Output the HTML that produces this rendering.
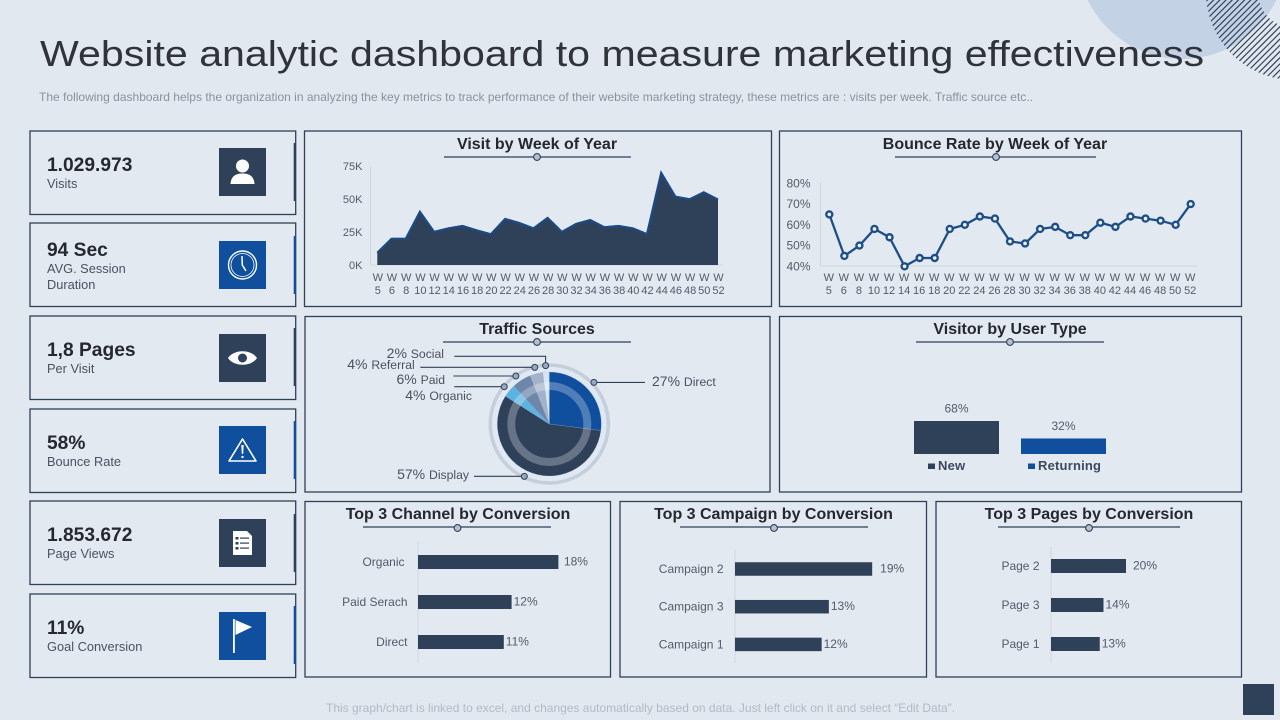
<!DOCTYPE html>
<html lang="en">
<head>
<meta charset="utf-8">
<title>Website analytic dashboard</title>
<style>
html,body{margin:0;padding:0;background:#e2e8f0;width:1280px;height:720px;overflow:hidden}
svg{display:block;font-family:"Liberation Sans",Arial,sans-serif}
.panel{fill:#e3e9f1;stroke:#2f4059;stroke-width:1.3}
.ptitle{font-size:16px;font-weight:bold;fill:#25282e;text-anchor:middle}
.rule{stroke:#2f4059;stroke-width:1.2}
.knob{fill:#b5bfce;stroke:#2f4059;stroke-width:1.1}
.kv{font-size:19.2px;font-weight:bold;fill:#25282e}
.kl{font-size:12.8px;fill:#4a5260}
</style>
</head>
<body>
<svg id="page" width="1280" height="720" viewBox="0 0 1280 720" xmlns="http://www.w3.org/2000/svg">
<defs>
<clipPath id="ringClip"><path clip-rule="evenodd" d="M1206 -8 a88 88 0 1 0 176 0 a88 88 0 1 0 -176 0 Z M1258 -8 a36 36 0 1 0 72 0 a36 36 0 1 0 -72 0 Z"/></clipPath>
</defs>
<rect width="1280" height="720" fill="#e2e8f0"/>
<circle cx="1182" cy="-46" r="105" fill="#c3d2e5"/>
<g id="hatchGroup" clip-path="url(#ringClip)" stroke="#36445a" stroke-width="1.2"></g>

<text x="40" y="66" font-size="36" fill="#30333a" textLength="1164" lengthAdjust="spacingAndGlyphs">Website analytic dashboard to measure marketing effectiveness</text>
<text x="39" y="101" font-size="12" fill="#8b929c" textLength="994" lengthAdjust="spacingAndGlyphs">The following dashboard helps the organization in analyzing the key metrics to track performance of their website marketing strategy, these metrics are : visits per week. Traffic source etc..</text>

<!-- KPI cards -->
<g>
<rect class="panel" x="30" y="131" width="265.7" height="83.5"/>
<rect x="293.7" y="143" width="2.3" height="58" fill="#2f4059"/>
<text class="kv" x="47" y="171">1.029.973</text>
<text class="kl" x="47" y="188">Visits</text>
<rect x="219" y="148" width="47" height="48" fill="#2f4059"/>
<g fill="#fff"><circle cx="242.5" cy="166" r="6.5"/><path d="M230.5 184 C231 176 236 173.5 242.5 173.5 C249 173.5 254 176 254.5 184 Z"/></g>
</g>

<g>
<rect class="panel" x="30" y="223" width="265.7" height="83.5"/>
<rect x="293.7" y="236" width="2.3" height="58" fill="#0f4f9e"/>
<text class="kv" x="47" y="256">94 Sec</text>
<text class="kl" x="47" y="273">AVG. Session</text>
<text class="kl" x="47" y="289">Duration</text>
<rect x="219" y="241" width="47" height="48" fill="#0f4f9e"/>
<g fill="none" stroke="#fff"><circle cx="242.5" cy="265" r="14" stroke-width="1.4"/><circle cx="242.5" cy="265" r="11.5" stroke-width="0.8"/><path d="M242 256 L242.3 265 L246 271" stroke-width="1.5"/></g>
</g>

<g>
<rect class="panel" x="30" y="316" width="265.7" height="83.5"/>
<rect x="293.7" y="328" width="2.3" height="58" fill="#2f4059"/>
<text class="kv" x="47" y="356">1,8 Pages</text>
<text class="kl" x="47" y="373">Per Visit</text>
<rect x="219" y="334" width="47" height="48" fill="#2f4059"/>
<g><path d="M228 358 C234 349 251 349 257 358 C251 367 234 367 228 358 Z" fill="#fff"/><circle cx="242.5" cy="358" r="4.5" fill="#2f4059"/></g>
</g>

<g>
<rect class="panel" x="30" y="409" width="265.7" height="83.5"/>
<rect x="293.7" y="421" width="2.3" height="58" fill="#0f4f9e"/>
<text class="kv" x="47" y="449">58%</text>
<text class="kl" x="47" y="466">Bounce Rate</text>
<rect x="219" y="426" width="47" height="48" fill="#0f4f9e"/>
<g><path d="M242.5 439 L256 461 L229 461 Z" fill="none" stroke="#fff" stroke-width="1.6" stroke-linejoin="round"/><path d="M241.3 445 h2.4 l-0.5 9 h-1.4 Z" fill="#fff"/><circle cx="242.5" cy="457" r="1.2" fill="#fff"/></g>
</g>

<g>
<rect class="panel" x="30" y="501" width="265.7" height="83.5"/>
<rect x="293.7" y="514" width="2.3" height="58" fill="#2f4059"/>
<text class="kv" x="47" y="541">1.853.672</text>
<text class="kl" x="47" y="558">Page Views</text>
<rect x="219" y="519" width="47" height="48" fill="#2f4059"/>
<g><path d="M233 531 H247 L252 536 V555 H233 Z" fill="#fff"/><g fill="#2f4059"><rect x="235.5" y="537" width="3" height="2.5"/><rect x="235.5" y="542" width="3" height="2.5"/><rect x="235.5" y="547" width="3" height="2.5"/><rect x="240" y="537.5" width="9" height="1.2"/><rect x="240" y="542.5" width="9" height="1.2"/><rect x="240" y="547.5" width="9" height="1.2"/></g></g>
</g>

<g>
<rect class="panel" x="30" y="594" width="265.7" height="83.5"/>
<rect x="293.7" y="606" width="2.3" height="58" fill="#0f4f9e"/>
<text class="kv" x="47" y="634">11%</text>
<text class="kl" x="47" y="651">Goal Conversion</text>
<rect x="219" y="612" width="47" height="48" fill="#0f4f9e"/>
<g fill="#fff"><rect x="233" y="619" width="1.8" height="34"/><path d="M235.5 620 L252 627 L235.5 635 Z"/></g>
</g>

<!-- Panels -->
<rect class="panel" x="304.5" y="131" width="467" height="175.5"/>
<rect class="panel" x="779.5" y="131" width="462" height="175.5"/>
<rect class="panel" x="305" y="316.5" width="465" height="175.5"/>
<rect class="panel" x="779.5" y="316.5" width="462" height="175.5"/>
<rect class="panel" x="305" y="501.5" width="305.5" height="175.5"/>
<rect class="panel" x="620" y="501.5" width="306.5" height="175.5"/>
<rect class="panel" x="936" y="501.5" width="305.5" height="175.5"/>

<text class="ptitle" x="537" y="149">Visit by Week of Year</text>
<line class="rule" x1="444" x2="631" y1="157" y2="157"/>
<circle class="knob" cx="537" cy="157" r="3.4"/>
<text class="ptitle" x="995" y="149">Bounce Rate by Week of Year</text>
<line class="rule" x1="895" x2="1096" y1="157" y2="157"/>
<circle class="knob" cx="996" cy="157" r="3.4"/>
<text class="ptitle" x="537" y="334">Traffic Sources</text>
<line class="rule" x1="443" x2="631" y1="342" y2="342"/>
<circle class="knob" cx="537" cy="342" r="3.4"/>
<text class="ptitle" x="1010" y="334">Visitor by User Type</text>
<line class="rule" x1="916" x2="1104" y1="342" y2="342"/>
<circle class="knob" cx="1010" cy="342" r="3.4"/>
<text class="ptitle" x="458" y="519">Top 3 Channel by Conversion</text>
<line class="rule" x1="363" x2="551" y1="527" y2="527"/>
<circle class="knob" cx="457.5" cy="528" r="3.4"/>
<text class="ptitle" x="773.5" y="519">Top 3 Campaign by Conversion</text>
<line class="rule" x1="680" x2="868" y1="527" y2="527"/>
<circle class="knob" cx="774" cy="528" r="3.4"/>
<text class="ptitle" x="1089" y="519">Top 3 Pages by Conversion</text>
<line class="rule" x1="998" x2="1180" y1="527" y2="527"/>
<circle class="knob" cx="1089" cy="528" r="3.4"/>

<g id="charts"></g>

<text x="326" y="712" font-size="12" fill="#b4bac3" textLength="629" lengthAdjust="spacingAndGlyphs">This graph/chart is linked to excel, and changes automatically based on data. Just left click on it and select “Edit Data”.</text>
<rect x="1243" y="684" width="31" height="31" fill="#2f4059"/>
</svg>

<script>
var weeks = ['5','6','8','10','12','14','16','18','20','22','24','26','28','30','32','34','36','38','40','42','44','46','48','50','52'];
var visitsK = [10,20.5,20.5,41,25.8,28.5,30.3,27,24,35.6,32.6,28.5,36.4,25.8,31.8,34.8,29.3,30.3,28.5,24.2,70.5,52.5,50.5,55.8,50.3];
var visitTicks = [0,25,50,75];
var bouncePct = [65,45,50,58,54,40,44,44,58,60,64,63,52,51,58,59,55,55,61,59,64,63,62,60,70];
var bounceTicks = [40,50,60,70,80];
var trafficNames = ['Direct','Display','Organic','Paid','Referral','Social'];
var trafficPct = [27,57,4,6,4,2];
var userTypes = ['New','Returning'];
var userPct = [68,32];
var channelNames = ['Organic','Paid Serach','Direct'];
var channelPct = [18,12,11];
var campaignNames = ['Campaign 2','Campaign 3','Campaign 1'];
var campaignPct = [19,13,12];
var pageNames = ['Page 2','Page 3','Page 1'];
var pagePct = [20,14,13];

var NS = 'http://www.w3.org/2000/svg';
var root = document.getElementById('charts');
var NAVY = '#2f4059', BLUE = '#0f4f9e', AXIS = '#d0d6de', LABEL = '#525b68';

function mk(tag, attrs, name, parent) {
  var el = document.createElementNS(NS, tag);
  for (var k in attrs) el.setAttribute(k, attrs[k]);
  
  
  (parent || root).appendChild(el);
  return el;
}
function txt(x, y, s, size, fill, anchor, name, weight) {
  var el = mk('text', {x: x, y: y, 'font-size': size, fill: fill, 'text-anchor': anchor || 'start', 'font-weight': weight || 'normal'}, name);
  el.textContent = s;
  return el;
}

/* Decorative hatching */
(function () {
  var g = document.getElementById('hatchGroup');
  for (var c = 1195; c < 1400; c += 6.2) {
    mk('line', {x1: c + 20, y1: -20, x2: c - 100, y2: 100}, 'decor-hatch-line', g);
  }
})();

/* Visits area chart */
function xVisit(i) { return 377.3 + i * (718 - 377.3) / (weeks.length - 1); }
function yVisit(v) { return 265 - v * 99 / 75; }
(function () {
  mk('line', {x1: 370.5, x2: 370.5, y1: 166, y2: 265, stroke: AXIS}, 'visits-y-axis');
  mk('line', {x1: 370.5, x2: 723, y1: 265, y2: 265, stroke: AXIS}, 'visits-x-axis');
  visitTicks.forEach(function (t) {
    txt(362.5, yVisit(t) + 4, t + 'K', 11, LABEL, 'end', 'visits-y-tick');
  });
  var d = 'M' + xVisit(0) + ' ' + yVisit(0);
  visitsK.forEach(function (v, i) { d += ' L' + xVisit(i).toFixed(1) + ' ' + yVisit(v).toFixed(1); });
  d += ' L' + xVisit(visitsK.length - 1) + ' ' + yVisit(0) + ' Z';
  mk('path', {d: d, fill: '#2f4059'}, 'visits-area');
  var top = visitsK.map(function (v, i) { return xVisit(i).toFixed(1) + ',' + (yVisit(v) + 1).toFixed(1); }).join(' ');
  mk('polyline', {points: top, fill: 'none', stroke: '#1c4a85', 'stroke-width': 2.2}, 'visits-area-edge');
  weeks.forEach(function (w, i) {
    txt(xVisit(i) + 0.5, 281, 'W', 11, LABEL, 'middle', 'visits-x-tick-w');
    txt(xVisit(i) + 0.5, 294, w, 11, LABEL, 'middle', 'visits-x-tick-week');
  });
})();

/* Bounce line chart */
function xBounce(i) { return 829.3 + i * (1190.7 - 829.3) / (weeks.length - 1); }
function yBounce(v) { return 266.3 - (v - 40) * 2.075; }
(function () {
  mk('line', {x1: 820.5, x2: 820.5, y1: 182, y2: 266, stroke: AXIS}, 'bounce-y-axis');
  mk('line', {x1: 820.5, x2: 1197, y1: 266, y2: 266, stroke: AXIS}, 'bounce-x-axis');
  bounceTicks.forEach(function (t) {
    txt(810.5, yBounce(t) + 4, t + '%', 12, LABEL, 'end', 'bounce-y-tick');
  });
  var pts = bouncePct.map(function (v, i) { return xBounce(i).toFixed(1) + ',' + yBounce(v).toFixed(1); }).join(' ');
  mk('polyline', {points: pts, fill: 'none', stroke: '#1d4f86', 'stroke-width': 2.3}, 'bounce-line');
  bouncePct.forEach(function (v, i) {
    mk('circle', {cx: xBounce(i), cy: yBounce(v), r: 3, fill: '#eef3f8', stroke: '#1d4f86', 'stroke-width': 2.4}, 'bounce-point');
  });
  weeks.forEach(function (w, i) {
    txt(xBounce(i) - 0.5, 281, 'W', 11, LABEL, 'middle', 'bounce-x-tick-w');
    txt(xBounce(i) - 0.5, 294, w, 11, LABEL, 'middle', 'bounce-x-tick-week');
  });
})();

/* Traffic pie */
var PIE_X = 549.3, PIE_Y = 424, PIE_R = 52;
function pieAngle(share) {
  var total = trafficPct.reduce(function (a, b) { return a + b; }, 0);
  return share / total * 2 * Math.PI;
}
function piePoint(a, r) { return [PIE_X + r * Math.sin(a), PIE_Y - r * Math.cos(a)]; }
(function () {
  var colors = ['#0f4f9e', '#2f4059', '#5cb3e0', '#6d86a9', '#a3b2c9', '#d6e6f7'];
  var labelAt = [[652, 386, 'start'], [469, 479, 'end'], [472, 400, 'end'], [445, 384, 'end'], [414.7, 369, 'end'], [444, 358, 'end']];
  var lineEnd = [645, 474, 454.3, 453.3, 420.3, 454.3];
  var dotNudgeDeg = [-1.6, 5.7, 0, -2.5, 0, 0];
  var dotRadius = [61, 58, 58.5, 58.5, 58.5, 58.5];
  mk('circle', {cx: PIE_X, cy: PIE_Y, r: 59, fill: '#dfe8f3', stroke: '#c5cedb', 'stroke-width': 3.5}, 'pie-outer-ring');
  var acc = 0;
  trafficPct.forEach(function (v, i) {
    var a0 = pieAngle(acc), a1 = pieAngle(acc + v);
    var p0 = piePoint(a0, PIE_R), p1 = piePoint(a1, PIE_R);
    var large = (a1 - a0) > Math.PI ? 1 : 0;
    var d = 'M' + PIE_X + ' ' + PIE_Y + ' L' + p0[0].toFixed(2) + ' ' + p0[1].toFixed(2) + ' A' + PIE_R + ' ' + PIE_R + ' 0 ' + large + ' 1 ' + p1[0].toFixed(2) + ' ' + p1[1].toFixed(2) + ' Z';
    mk('path', {d: d, fill: colors[i], stroke: '#8fb0d8', 'stroke-width': 0.25}, 'pie-slice-' + trafficNames[i].toLowerCase());
    acc += v;
  });
  mk('circle', {cx: PIE_X, cy: PIE_Y, r: 38, fill: 'none', stroke: '#ffffff', 'stroke-opacity': 0.27, 'stroke-width': 8}, 'pie-inner-ring');
  acc = 0;
  trafficPct.forEach(function (v, i) {
    var mid = pieAngle(acc + v / 2) + dotNudgeDeg[i] * Math.PI / 180;
    var p = piePoint(mid, dotRadius[i]);
    var nm = trafficNames[i].toLowerCase();
    var endX = lineEnd[i], d;
    if (i === 5) {
      d = 'M' + endX + ' 356.3 H' + p[0].toFixed(1) + ' V' + p[1].toFixed(1);
    } else {
      d = 'M' + endX + ' ' + p[1].toFixed(1) + ' H' + p[0].toFixed(1);
    }
    mk('path', {d: d, fill: 'none', stroke: NAVY, 'stroke-width': 1.1}, 'pie-leader-' + nm);
    mk('circle', {cx: p[0], cy: p[1], r: 3, fill: '#9aa8bd', stroke: NAVY, 'stroke-width': 1}, 'pie-dot-' + nm);
    var pos = labelAt[i];
    var t = mk('text', {x: pos[0], y: pos[1], 'text-anchor': pos[2], fill: '#4a5260', 'font-size': 12.2}, 'pie-label-' + nm);
    var big = document.createElementNS(NS, 'tspan');
    big.setAttribute('font-size', '14');
    big.textContent = v + '% ';
    t.appendChild(big);
    t.appendChild(document.createTextNode(trafficNames[i]));
    acc += v;
  });
})();

/* Visitor type columns */
function yUser(v) { return 454 - v * 0.4853; }
(function () {
  var lefts = [914, 1021];
  var legendOffset = [14, 7];
  var colors = [NAVY, BLUE];
  userPct.forEach(function (v, i) {
    var nm = userTypes[i].toLowerCase();
    mk('rect', {x: lefts[i], y: yUser(v), width: 85, height: 454 - yUser(v), fill: colors[i]}, 'user-bar-' + nm);
    txt(lefts[i] + 42.5, yUser(v) - 8.5, v + '%', 12, LABEL, 'middle', 'user-value-' + nm);
    mk('rect', {x: lefts[i] + legendOffset[i], y: 463.5, width: 7, height: 5.5, fill: colors[i]}, 'legend-swatch-' + nm);
    var l = txt(lefts[i] + legendOffset[i] + 10, 470, userTypes[i], 13, '#3c4a5f', 'start', 'legend-entry-' + nm, 'bold');
    l.setAttribute('letter-spacing', '0.2');
  });
})();

/* Horizontal bars */
function hbars(prefix, names, vals, cfg) {
  function xv(v) { return cfg.x0 + v * cfg.perPct; }
  function yc(i) { return cfg.first + i * cfg.step; }
  mk('line', {x1: cfg.x0, x2: cfg.x0, y1: cfg.top, y2: 663, stroke: AXIS}, prefix + '-axis');
  vals.forEach(function (v, i) {
    mk('rect', {x: cfg.x0, y: yc(i) - cfg.h / 2, width: xv(v) - cfg.x0, height: cfg.h, fill: NAVY}, prefix + '-bar');
    txt(cfg.labelX - (i === 0 ? cfg.firstShift : 0), yc(i) + 4, names[i], 12, LABEL, 'end', prefix + '-category');
    txt(xv(v) + (i === 0 ? cfg.firstGap : 2), yc(i) + 3.5, v + '%', 12, LABEL, 'start', prefix + '-value');
  });
}
hbars('channel', channelNames, channelPct, {x0: 418, perPct: 7.8, first: 562, step: 40, h: 14, labelX: 407.5, firstShift: 3, firstGap: 5.5, top: 541});
hbars('campaign', campaignNames, campaignPct, {x0: 735, perPct: 7.22, first: 569, step: 37.7, h: 13.5, labelX: 723.5, firstShift: 0, firstGap: 8, top: 550});
hbars('pages', pageNames, pagePct, {x0: 1051, perPct: 3.75, first: 566, step: 39, h: 14, labelX: 1039.5, firstShift: 0, firstGap: 7, top: 547});
</script>
</body>
</html>
